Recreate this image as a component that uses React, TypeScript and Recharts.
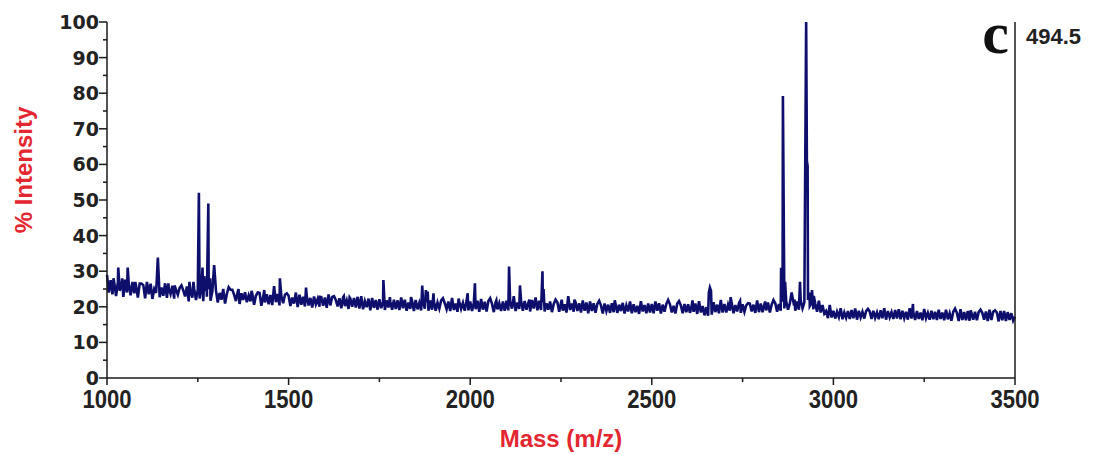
import React from "react";
import { LineChart, Line, XAxis, YAxis } from "recharts";

// m/z grid of the baseline trace
const massStart = 1000;
const massStep = 5;

// % intensity of the noisy baseline, one row per 100 Da (1000 ... 3495), then 3500
const baselineIntensity = [
  29, 24, 27.5, 23.5, 26.8, 23, 27, 24.5, 26, 22.8, 27.6, 24, 26.3, 23.2, 27, 23.8, 25.9, 22.6, 26.5, 24.2,
  26.1, 22.4, 25.8, 23.5, 26.5, 22.2, 25, 23.9, 26.2, 22.7, 25.4, 23.1, 26.6, 22.5, 25.2, 23.6, 25.9, 22.3, 24.8, 23.4,
  25.3, 21.8, 24.6, 22.9, 25.7, 21.5, 24.2, 22.6, 25.1, 21.9, 24.8, 22.3, 25.4, 21.6, 24.5, 22.8, 25, 21.7, 24.3, 22.4,
  24.6, 21.2, 23.9, 22, 24.4, 20.9, 23.6, 21.8, 24.8, 21.1, 23.4, 21.6, 24.2, 20.8, 23.8, 21.9, 24.1, 21.3, 23.2, 21.5,
  23.7, 20.6, 23.1, 21.4, 23.9, 20.3, 22.8, 21.2, 23.5, 20.7, 23.3, 20.5, 22.9, 21.3, 23.6, 20.4, 23, 21, 23.4, 20.6,
  23.1, 20.2, 22.6, 20.9, 23.3, 19.9, 22.4, 20.6, 22.8, 20.1, 23, 20.4, 22.5, 19.8, 22.9, 20.7, 22.2, 20, 22.7, 20.3,
  22.6, 19.7, 22.1, 20.4, 22.8, 19.5, 21.9, 20.1, 22.4, 19.6, 22.7, 20.2, 21.8, 19.4, 22.3, 20, 22.5, 19.8, 21.7, 19.5,
  22, 19.3, 21.6, 19.9, 22.3, 19, 21.4, 19.7, 21.9, 19.2, 22.1, 19.6, 21.3, 19.1, 21.8, 19.8, 21.5, 19.2, 22, 19.4,
  21.8, 19.1, 21.4, 19.6, 22, 18.9, 21.2, 19.4, 21.7, 18.8, 21.9, 19.3, 21.1, 19, 21.6, 19.5, 21.3, 18.9, 21.8, 19.2,
  21.6, 18.9, 21.2, 19.5, 21.8, 18.7, 21, 19.3, 21.5, 18.8, 21.7, 19.1, 20.9, 18.6, 21.4, 19.4, 21.1, 18.9, 21.6, 19,
  21.5, 18.8, 21.1, 19.3, 21.7, 18.6, 20.9, 19.2, 21.4, 18.7, 21.6, 19, 20.8, 18.5, 21.3, 19.3, 21, 18.8, 21.5, 18.9,
  21.7, 19, 21.4, 19.5, 22, 18.8, 21.2, 19.4, 21.8, 18.9, 21.6, 19.2, 21.1, 18.7, 21.9, 19.5, 21.3, 19, 21.7, 19.1,
  21.4, 18.7, 21, 19.2, 21.5, 18.5, 20.8, 19, 21.3, 18.6, 21.1, 18.9, 20.7, 18.4, 21.2, 19.1, 20.9, 18.6, 21.3, 18.8,
  21, 18.4, 20.7, 18.9, 21.2, 18.2, 20.5, 18.8, 21, 18.3, 20.8, 18.6, 20.4, 18.1, 20.9, 18.8, 20.6, 18.3, 21, 18.5,
  20.9, 18.3, 20.6, 18.8, 21.1, 18.1, 20.4, 18.7, 20.9, 18.2, 20.7, 18.5, 20.3, 18, 20.8, 18.7, 20.5, 18.2, 20.9, 18.4,
  20.8, 18.2, 20.5, 18.9, 21, 18.1, 20.6, 18.6, 20.8, 18.3, 20.7, 18.4, 20.3, 18.1, 20.9, 18.6, 20.4, 18.2, 20.8, 18.5,
  20.7, 18.3, 20.4, 18.6, 20.9, 18, 20.5, 18.4, 20.2, 17.6, 19.9, 17.5, 20.1, 17.8, 21.3, 18.5, 20.6, 18.2, 20.8, 18.4,
  20.8, 18.4, 20.6, 18.9, 21.1, 18.2, 20.5, 18.7, 21, 18.3, 20.7, 18.6, 20.4, 18.2, 20.9, 18.7, 20.6, 18.3, 21, 18.5,
  20.9, 18.5, 20.7, 19, 21.2, 18.4, 20.6, 18.8, 21, 18.6, 20.8, 18.9, 21.4, 19.5, 21.6, 19.2, 20.9, 18.8, 21.3, 18.9,
  21.5, 19.2, 21.8, 19.6, 21.2, 19.4, 21.9, 20.2, 21.1, 19.3, 20.9, 18.6, 20.7, 18.4, 20.5, 18.1, 18.8, 16.8, 18.9, 17,
  18.9, 16.7, 18.6, 17.1, 19, 16.5, 18.4, 16.9, 18.8, 16.6, 19.1, 16.8, 18.5, 16.4, 18.9, 17, 18.6, 16.7, 18.8, 16.5,
  18.7, 16.6, 18.9, 16.9, 18.4, 16.5, 19, 16.8, 18.6, 16.4, 18.8, 17, 18.5, 16.6, 19.1, 16.7, 18.7, 16.5, 18.9, 16.8,
  18.6, 16.4, 19.6, 16.7, 18.5, 16.3, 18.8, 16.6, 18.4, 16.2, 18.7, 16.8, 18.3, 16.4, 18.9, 16.5, 18.6, 16.3, 18.8, 16.6,
  18.4, 16.2, 18.7, 16.5, 18.2, 16.1, 18.6, 16.4, 18.3, 16, 19.3, 16.3, 18.5, 16.2, 18.8, 16.1, 18.4, 16.4, 18.6, 16.2,
  18.5, 16.1, 18.3, 16.4, 18.7, 16, 18.2, 16.3, 18.6, 16.1, 18.4, 15.9, 18.8, 16.2, 18.3, 16, 18.5, 16.3, 18.2, 16.1,
  17.2,
];

// Peaks (m/z and % intensity)
const peakMasses = [
  1018, 1031, 1042, 1057, 1078, 1095, 1110, 1137, 1140, 1169, 1186, 1205, 1227, 1238, 1253, 1263, 1268, 1274,
  1279, 1284, 1295, 1320, 1335, 1345, 1362, 1398, 1415, 1433, 1460, 1476, 1495, 1520, 1530, 1548, 1586, 1610,
  1625, 1652, 1668, 1690, 1700, 1730, 1761, 1779, 1810, 1837, 1868, 1878, 1883, 1899, 1925, 1950, 1968, 1993,
  2013, 2030, 2055, 2072, 2107, 2120, 2137, 2163, 2180, 2199, 2202, 2235, 2252, 2270, 2287, 2310, 2330, 2355,
  2398, 2440, 2470, 2510, 2545, 2575, 2612, 2630, 2657, 2660, 2663, 2690, 2717, 2743, 2765, 2790, 2812, 2835,
  2856, 2861, 2864, 2867, 2885, 2893, 2908, 2925, 2927, 2929, 2934, 2941, 2946, 2960, 2990, 3020, 3060, 3095,
  3140, 3180, 3219, 3250, 3290, 3310, 3335, 3378, 3405, 3430, 3445, 3470,
];
const peakIntensities = [
  28, 31, 28, 31, 27, 26.5, 27, 27.5, 33.8, 26.6, 26, 26, 27, 27, 52, 31, 28.6, 27,
  49, 28, 31.7, 25, 25.5, 24.8, 25, 24.5, 24, 24.7, 25.8, 28, 23.8, 24, 23.4, 25.4, 22.8, 23.5,
  23, 23, 22.6, 22.8, 23, 22.5, 27.5, 22.7, 22.6, 22.7, 26, 24.7, 24.3, 23.8, 22.4, 22.5, 22.3, 23.8,
  26.6, 22.2, 22.4, 21.8, 31.3, 23, 26, 22, 22.6, 30, 25, 22, 22, 23, 22, 21.8, 21.5, 21.7,
  21.8, 21.5, 21.6, 21.5, 21.9, 21.6, 21.8, 21.6, 24, 25.4, 24.5, 21.9, 22.7, 21.6, 21, 21.8, 21.5, 21.9,
  31, 79.2, 35, 27, 24, 22, 27, 100, 61, 59.5, 24, 24.7, 23, 21.7, 20.5, 19.6, 19.5, 19.4,
  19.6, 19.3, 20.8, 19.4, 19.2, 19.2, 19.5, 19, 19.2, 19.2, 19, 18.8,
];

const xTicks = [1000, 1250, 1500, 1750, 2000, 2250, 2500, 2750, 3000, 3250, 3500];
const yTicks = [0, 5, 10, 15, 20, 25, 30, 35, 40, 45, 50, 55, 60, 65, 70, 75, 80, 85, 90, 95, 100];

const byMass = new Map<number, number>();
baselineIntensity.forEach((v, i) => byMass.set(massStart + i * massStep, v));
peakMasses.forEach((m, i) => byMass.set(m, peakIntensities[i]));
const spectrum = Array.from(byMass.entries())
  .sort((a, b) => a[0] - b[0])
  .map(([mass, intensity]) => ({ mass, intensity }));

const AXIS = "#1a1a1a";
const RED = "#e3262f";

const YTick = (props: any) => {
  const { x, y, payload } = props;
  const v = payload.value;
  const major = v % 10 === 0;
  return (
    <g>
      <line x1={x} x2={x - (major ? 8 : 4)} y1={y} y2={y} stroke={AXIS} strokeWidth={1.5} />
      {major && (
        <text
          x={x - 8}
          y={y}
          textAnchor="end"
          dominantBaseline="central"
          fontFamily="'DejaVu Sans', sans-serif"
          fontWeight="bold"
          fontSize={19}
          fill="#222"
        >
          {v}
        </text>
      )}
    </g>
  );
};

const XTick = (props: any) => {
  const { x, y, payload } = props;
  const v = payload.value;
  const major = v % 500 === 0;
  return (
    <g>
      <line x1={x} x2={x} y1={y} y2={y + (major ? 7 : 4)} stroke={AXIS} strokeWidth={1.5} />
      {major && (
        <text
          transform={`translate(${x},${y + 30}) scale(0.85,1)`}
          textAnchor="middle"
          fontFamily="'Liberation Sans', Arial, sans-serif"
          fontWeight="bold"
          fontSize={26}
          fill="#222"
        >
          {v}
        </text>
      )}
    </g>
  );
};

export default function App() {
  return (
    <div style={{ position: "absolute", left: 0, top: 0, width: 1093, height: 455, background: "#fff" }}>
      <LineChart width={1093} height={455} data={spectrum} margin={{ top: 22, right: 0, bottom: 0, left: 0 }}>
        <XAxis
          dataKey="mass"
          type="number"
          domain={[1000, 3500]}
          ticks={xTicks}
          interval={0}
          height={77}
          tickSize={0}
          tickMargin={0}
          tickLine={false}
          axisLine={{ stroke: AXIS, strokeWidth: 1.5 }}
          tick={<XTick />}
        />
        <YAxis
          yAxisId="left"
          type="number"
          domain={[0, 100]}
          ticks={yTicks}
          interval={0}
          width={107}
          tickSize={0}
          tickMargin={0}
          tickLine={false}
          axisLine={{ stroke: AXIS, strokeWidth: 1.5 }}
          tick={<YTick />}
        />
        <YAxis
          yAxisId="right"
          orientation="right"
          type="number"
          domain={[0, 100]}
          width={78}
          tick={false}
          tickLine={false}
          axisLine={{ stroke: AXIS, strokeWidth: 1.5 }}
        />
        <Line
          yAxisId="left"
          type="linear"
          dataKey="intensity"
          stroke="#0e0e6c"
          strokeWidth={2.6}
          dot={false}
          isAnimationActive={false}
        />
      </LineChart>
      <div
        style={{
          position: "absolute",
          left: 24,
          top: 170,
          transform: "translate(-50%, -50%) rotate(-90deg)",
          whiteSpace: "nowrap",
          fontFamily: "'Liberation Sans', Arial, sans-serif",
          fontWeight: "bold",
          fontSize: 24,
          lineHeight: "24px",
          color: RED,
        }}
      >
        % Intensity
      </div>
      <div
        style={{
          position: "absolute",
          left: 561,
          top: 427,
          transform: "translateX(-50%)",
          whiteSpace: "nowrap",
          fontFamily: "'Liberation Sans', Arial, sans-serif",
          fontWeight: "bold",
          fontSize: 24,
          lineHeight: "24px",
          color: RED,
        }}
      >
        Mass (m/z)
      </div>
      <div
        style={{
          position: "absolute",
          left: 1026,
          top: 26,
          whiteSpace: "nowrap",
          fontFamily: "'Liberation Sans', Arial, sans-serif",
          fontWeight: "bold",
          fontSize: 22,
          lineHeight: "22px",
          color: "#222",
        }}
      >
        494.5
      </div>
      <div
        style={{
          position: "absolute",
          right: 84,
          top: 3,
          whiteSpace: "nowrap",
          fontFamily: "'Liberation Serif', 'Times New Roman', serif",
          fontWeight: "bold",
          fontSize: 60,
          lineHeight: "60px",
          color: "#111",
        }}
      >
        c
      </div>
    </div>
  );
}
